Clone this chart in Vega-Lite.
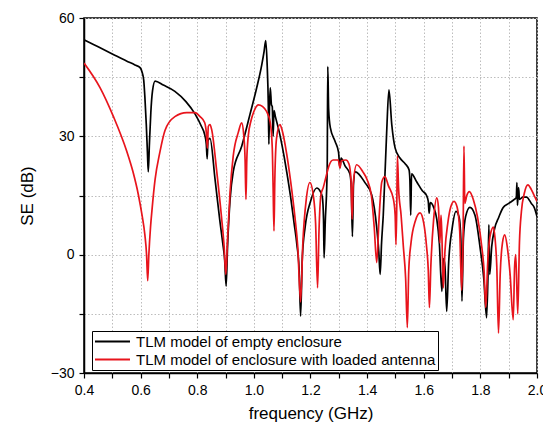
{
  "$schema": "https://vega.github.io/schema/vega-lite/v6.json",
  "autosize": {"type": "none"},
  "width": 453,
  "height": 355,
  "padding": {"left": 84, "top": 18, "right": 6, "bottom": 56},
  "background": "white",
  "config": {
    "font": "Liberation Sans",
    "view": {"stroke": "#000", "strokeWidth": 1.5},
    "axis": {
      "domainColor": "#000", "domainWidth": 1.5,
      "tickColor": "#000", "tickWidth": 1.2, "tickSize": 5,
      "labelFont": "Liberation Sans", "labelFontSize": 14, "labelColor": "#000", "labelPadding": 5,
      "titleFont": "Liberation Sans", "titleFontSize": 17, "titleFontWeight": "normal", "titleColor": "#000",
      "grid": true, "gridColor": "#bdbdbd", "gridDash": [1.5, 2], "gridWidth": 1
    }
  },
  "data": {"values": [
    {"f":0.40,"se":54.5,"s":"A"},{"f":0.45,"se":52.7,"s":"A"},{"f":0.50,"se":50.9,"s":"A"},{"f":0.55,"se":49.1,"s":"A"},{"f":0.58,"se":48.1,"s":"A"},{"f":0.598,"se":47.4,"s":"A"},{"f":0.605,"se":46.3,"s":"A"},{"f":0.611,"se":44.2,"s":"A"},{"f":0.615,"se":40,"s":"A"},{"f":0.62,"se":33,"s":"A"},{"f":0.624,"se":26,"s":"A"},{"f":0.627,"se":21,"s":"A"},{"f":0.631,"se":28,"s":"A"},{"f":0.636,"se":36,"s":"A"},{"f":0.642,"se":41.5,"s":"A"},{"f":0.651,"se":44,"s":"A"},{"f":0.68,"se":43,"s":"A"},{"f":0.721,"se":41.4,"s":"A"},{"f":0.76,"se":38.8,"s":"A"},{"f":0.792,"se":35.7,"s":"A"},{"f":0.815,"se":32.5,"s":"A"},{"f":0.826,"se":30.5,"s":"A"},{"f":0.832,"se":28,"s":"A"},{"f":0.835,"se":24.3,"s":"A"},{"f":0.838,"se":29,"s":"A"},{"f":0.845,"se":29.5,"s":"A"},{"f":0.863,"se":19,"s":"A"},{"f":0.88,"se":8.5,"s":"A"},{"f":0.89,"se":3,"s":"A"},{"f":0.897,"se":-1.5,"s":"A"},{"f":0.902,"se":-8,"s":"A"},{"f":0.907,"se":2,"s":"A"},{"f":0.916,"se":14,"s":"A"},{"f":0.927,"se":21,"s":"A"},{"f":0.957,"se":27.5,"s":"A"},{"f":0.986,"se":35.5,"s":"A"},{"f":1.01,"se":42.3,"s":"A"},{"f":1.028,"se":48.2,"s":"A"},{"f":1.036,"se":51.5,"s":"A"},{"f":1.042,"se":54.3,"s":"A"},{"f":1.047,"se":48,"s":"A"},{"f":1.051,"se":38,"s":"A"},{"f":1.053,"se":28,"s":"A"},{"f":1.055,"se":37,"s":"A"},{"f":1.058,"se":42.3,"s":"A"},{"f":1.062,"se":38,"s":"A"},{"f":1.065,"se":37.5,"s":"A"},{"f":1.068,"se":30,"s":"A"},{"f":1.071,"se":36.5,"s":"A"},{"f":1.076,"se":35,"s":"A"},{"f":1.09,"se":31,"s":"A"},{"f":1.10,"se":27.5,"s":"A"},{"f":1.116,"se":21,"s":"A"},{"f":1.13,"se":14.5,"s":"A"},{"f":1.142,"se":8,"s":"A"},{"f":1.152,"se":2.5,"s":"A"},{"f":1.16,"se":-4,"s":"A"},{"f":1.165,"se":-15.6,"s":"A"},{"f":1.171,"se":-1,"s":"A"},{"f":1.181,"se":7,"s":"A"},{"f":1.20,"se":13.5,"s":"A"},{"f":1.222,"se":16.9,"s":"A"},{"f":1.235,"se":16,"s":"A"},{"f":1.242,"se":14.5,"s":"A"},{"f":1.246,"se":9,"s":"A"},{"f":1.248,"se":-0.8,"s":"A"},{"f":1.252,"se":8,"s":"A"},{"f":1.259,"se":22,"s":"A"},{"f":1.261,"se":47.7,"s":"A"},{"f":1.264,"se":37,"s":"A"},{"f":1.27,"se":32.2,"s":"A"},{"f":1.287,"se":28.7,"s":"A"},{"f":1.299,"se":26,"s":"A"},{"f":1.304,"se":22,"s":"A"},{"f":1.308,"se":24.5,"s":"A"},{"f":1.322,"se":22.5,"s":"A"},{"f":1.339,"se":20.5,"s":"A"},{"f":1.344,"se":17,"s":"A"},{"f":1.348,"se":4.6,"s":"A"},{"f":1.352,"se":18,"s":"A"},{"f":1.358,"se":21,"s":"A"},{"f":1.393,"se":18.2,"s":"A"},{"f":1.416,"se":15.2,"s":"A"},{"f":1.434,"se":6.8,"s":"A"},{"f":1.441,"se":1,"s":"A"},{"f":1.446,"se":-5,"s":"A"},{"f":1.451,"se":3,"s":"A"},{"f":1.457,"se":10,"s":"A"},{"f":1.469,"se":31,"s":"A"},{"f":1.477,"se":41.8,"s":"A"},{"f":1.487,"se":33,"s":"A"},{"f":1.499,"se":27,"s":"A"},{"f":1.516,"se":24.5,"s":"A"},{"f":1.535,"se":23,"s":"A"},{"f":1.548,"se":21.5,"s":"A"},{"f":1.551,"se":19,"s":"A"},{"f":1.554,"se":10,"s":"A"},{"f":1.557,"se":20.5,"s":"A"},{"f":1.575,"se":18.5,"s":"A"},{"f":1.595,"se":16.2,"s":"A"},{"f":1.61,"se":15,"s":"A"},{"f":1.616,"se":13.5,"s":"A"},{"f":1.619,"se":10.5,"s":"A"},{"f":1.623,"se":13.2,"s":"A"},{"f":1.635,"se":12,"s":"A"},{"f":1.646,"se":9,"s":"A"},{"f":1.655,"se":3,"s":"A"},{"f":1.664,"se":-9.3,"s":"A"},{"f":1.67,"se":-1,"s":"A"},{"f":1.675,"se":-3,"s":"A"},{"f":1.681,"se":-14.4,"s":"A"},{"f":1.688,"se":-2,"s":"A"},{"f":1.70,"se":6.5,"s":"A"},{"f":1.714,"se":11,"s":"A"},{"f":1.725,"se":9.5,"s":"A"},{"f":1.731,"se":4,"s":"A"},{"f":1.735,"se":-11.8,"s":"A"},{"f":1.74,"se":4,"s":"A"},{"f":1.748,"se":9.7,"s":"A"},{"f":1.763,"se":12,"s":"A"},{"f":1.781,"se":10,"s":"A"},{"f":1.799,"se":1.8,"s":"A"},{"f":1.812,"se":-6,"s":"A"},{"f":1.822,"se":-16,"s":"A"},{"f":1.827,"se":-5,"s":"A"},{"f":1.83,"se":7.6,"s":"A"},{"f":1.833,"se":-5,"s":"A"},{"f":1.84,"se":2,"s":"A"},{"f":1.85,"se":6.5,"s":"A"},{"f":1.865,"se":9.5,"s":"A"},{"f":1.88,"se":11.9,"s":"A"},{"f":1.90,"se":13,"s":"A"},{"f":1.92,"se":14,"s":"A"},{"f":1.927,"se":14.5,"s":"A"},{"f":1.929,"se":18.3,"s":"A"},{"f":1.931,"se":12.5,"s":"A"},{"f":1.935,"se":17,"s":"A"},{"f":1.938,"se":14,"s":"A"},{"f":1.95,"se":14.6,"s":"A"},{"f":1.963,"se":14.6,"s":"A"},{"f":1.98,"se":13,"s":"A"},{"f":1.99,"se":12,"s":"A"},{"f":2.00,"se":9.7,"s":"A"},

    {"f":0.40,"se":48.6,"s":"B"},{"f":0.457,"se":42.3,"s":"B"},{"f":0.504,"se":35,"s":"B"},{"f":0.551,"se":26.2,"s":"B"},{"f":0.573,"se":21,"s":"B"},{"f":0.592,"se":15.2,"s":"B"},{"f":0.605,"se":10,"s":"B"},{"f":0.615,"se":5,"s":"B"},{"f":0.621,"se":0,"s":"B"},{"f":0.625,"se":-6.6,"s":"B"},{"f":0.629,"se":0,"s":"B"},{"f":0.635,"se":7,"s":"B"},{"f":0.641,"se":12,"s":"B"},{"f":0.651,"se":19,"s":"B"},{"f":0.668,"se":26,"s":"B"},{"f":0.686,"se":31.5,"s":"B"},{"f":0.721,"se":35,"s":"B"},{"f":0.763,"se":36,"s":"B"},{"f":0.792,"se":36,"s":"B"},{"f":0.81,"se":35,"s":"B"},{"f":0.826,"se":33.5,"s":"B"},{"f":0.832,"se":31,"s":"B"},{"f":0.836,"se":27,"s":"B"},{"f":0.839,"se":32.5,"s":"B"},{"f":0.845,"se":33,"s":"B"},{"f":0.851,"se":31.7,"s":"B"},{"f":0.869,"se":21,"s":"B"},{"f":0.886,"se":9.3,"s":"B"},{"f":0.895,"se":2,"s":"B"},{"f":0.901,"se":-5,"s":"B"},{"f":0.907,"se":4,"s":"B"},{"f":0.916,"se":16,"s":"B"},{"f":0.927,"se":25,"s":"B"},{"f":0.945,"se":31,"s":"B"},{"f":0.957,"se":33.4,"s":"B"},{"f":0.964,"se":30.5,"s":"B"},{"f":0.969,"se":24,"s":"B"},{"f":0.972,"se":14,"s":"B"},{"f":0.975,"se":24,"s":"B"},{"f":0.98,"se":30,"s":"B"},{"f":0.99,"se":34,"s":"B"},{"f":1.00,"se":36.3,"s":"B"},{"f":1.016,"se":38,"s":"B"},{"f":1.03,"se":37.6,"s":"B"},{"f":1.045,"se":36.3,"s":"B"},{"f":1.058,"se":33.5,"s":"B"},{"f":1.065,"se":27,"s":"B"},{"f":1.068,"se":17,"s":"B"},{"f":1.071,"se":6,"s":"B"},{"f":1.074,"se":19,"s":"B"},{"f":1.08,"se":29.5,"s":"B"},{"f":1.092,"se":33,"s":"B"},{"f":1.10,"se":31.5,"s":"B"},{"f":1.116,"se":25.5,"s":"B"},{"f":1.13,"se":18.5,"s":"B"},{"f":1.145,"se":9.5,"s":"B"},{"f":1.155,"se":2,"s":"B"},{"f":1.165,"se":-12,"s":"B"},{"f":1.173,"se":3,"s":"B"},{"f":1.185,"se":14,"s":"B"},{"f":1.198,"se":18.3,"s":"B"},{"f":1.21,"se":15,"s":"B"},{"f":1.218,"se":8,"s":"B"},{"f":1.225,"se":-8.4,"s":"B"},{"f":1.23,"se":6,"s":"B"},{"f":1.237,"se":15.2,"s":"B"},{"f":1.245,"se":17,"s":"B"},{"f":1.254,"se":19.5,"s":"B"},{"f":1.265,"se":22.5,"s":"B"},{"f":1.28,"se":24,"s":"B"},{"f":1.298,"se":24,"s":"B"},{"f":1.304,"se":22,"s":"B"},{"f":1.309,"se":23.8,"s":"B"},{"f":1.325,"se":24,"s":"B"},{"f":1.336,"se":23,"s":"B"},{"f":1.343,"se":19,"s":"B"},{"f":1.347,"se":9,"s":"B"},{"f":1.351,"se":18,"s":"B"},{"f":1.363,"se":22.8,"s":"B"},{"f":1.385,"se":21,"s":"B"},{"f":1.40,"se":19,"s":"B"},{"f":1.415,"se":15,"s":"B"},{"f":1.425,"se":7,"s":"B"},{"f":1.434,"se":-2,"s":"B"},{"f":1.442,"se":9,"s":"B"},{"f":1.452,"se":18.5,"s":"B"},{"f":1.463,"se":19.8,"s":"B"},{"f":1.475,"se":17.5,"s":"B"},{"f":1.493,"se":14,"s":"B"},{"f":1.499,"se":10,"s":"B"},{"f":1.502,"se":2.5,"s":"B"},{"f":1.505,"se":14,"s":"B"},{"f":1.507,"se":25,"s":"B"},{"f":1.511,"se":17,"s":"B"},{"f":1.52,"se":10,"s":"B"},{"f":1.528,"se":2,"s":"B"},{"f":1.536,"se":-6,"s":"B"},{"f":1.542,"se":-18.5,"s":"B"},{"f":1.547,"se":-4,"s":"B"},{"f":1.555,"se":3,"s":"B"},{"f":1.57,"se":8.5,"s":"B"},{"f":1.587,"se":10.6,"s":"B"},{"f":1.60,"se":8,"s":"B"},{"f":1.61,"se":2,"s":"B"},{"f":1.616,"se":-4,"s":"B"},{"f":1.62,"se":-13.4,"s":"B"},{"f":1.625,"se":-3,"s":"B"},{"f":1.635,"se":9,"s":"B"},{"f":1.646,"se":14.4,"s":"B"},{"f":1.652,"se":12,"s":"B"},{"f":1.657,"se":3,"s":"B"},{"f":1.661,"se":10,"s":"B"},{"f":1.664,"se":5,"s":"B"},{"f":1.669,"se":-8.4,"s":"B"},{"f":1.675,"se":1,"s":"B"},{"f":1.685,"se":8,"s":"B"},{"f":1.695,"se":12,"s":"B"},{"f":1.707,"se":13.5,"s":"B"},{"f":1.718,"se":12,"s":"B"},{"f":1.727,"se":6,"s":"B"},{"f":1.734,"se":-9,"s":"B"},{"f":1.739,"se":5,"s":"B"},{"f":1.742,"se":27.5,"s":"B"},{"f":1.745,"se":13,"s":"B"},{"f":1.752,"se":15,"s":"B"},{"f":1.761,"se":16,"s":"B"},{"f":1.775,"se":14,"s":"B"},{"f":1.79,"se":9.5,"s":"B"},{"f":1.805,"se":2,"s":"B"},{"f":1.813,"se":-4,"s":"B"},{"f":1.819,"se":-13.4,"s":"B"},{"f":1.826,"se":-2,"s":"B"},{"f":1.835,"se":5,"s":"B"},{"f":1.846,"se":7,"s":"B"},{"f":1.852,"se":4,"s":"B"},{"f":1.858,"se":-3,"s":"B"},{"f":1.864,"se":-19.9,"s":"B"},{"f":1.87,"se":-5,"s":"B"},{"f":1.878,"se":3,"s":"B"},{"f":1.886,"se":5,"s":"B"},{"f":1.895,"se":2,"s":"B"},{"f":1.905,"se":-5,"s":"B"},{"f":1.916,"se":-16.5,"s":"B"},{"f":1.921,"se":-3,"s":"B"},{"f":1.925,"se":0,"s":"B"},{"f":1.932,"se":-15,"s":"B"},{"f":1.938,"se":3,"s":"B"},{"f":1.945,"se":11,"s":"B"},{"f":1.955,"se":15.5,"s":"B"},{"f":1.968,"se":17.7,"s":"B"},{"f":1.98,"se":16.5,"s":"B"},{"f":1.99,"se":15,"s":"B"},{"f":2.00,"se":13.5,"s":"B"}
  ]},
  "mark": {"type": "line", "strokeWidth": 1.7, "interpolate": "monotone", "clip": true},
  "encoding": {
    "x": {"field": "f", "type": "quantitative", "title": "frequency (GHz)",
      "scale": {"domain": [0.4, 2.0], "nice": false, "zero": false},
      "axis": {"values": [0.4,0.5,0.6,0.7,0.8,0.9,1.0,1.1,1.2,1.3,1.4,1.5,1.6,1.7,1.8,1.9,2.0],
        "labelExpr": "round(datum.value*10) % 2 == 0 ? format(datum.value, '.1f') : ''",
        "titlePadding": 8, "labelFlush": false, "labelOverlap": false}},
    "y": {"field": "se", "type": "quantitative", "title": "SE (dB)",
      "scale": {"domain": [-30, 60], "nice": false, "zero": false},
      "axis": {"values": [-30,-15,0,15,30,45,60],
        "labelExpr": "datum.value % 30 == 0 ? datum.label : ''",
        "titlePadding": 14, "labelFlush": false, "labelOverlap": false}},
    "color": {"field": "s", "type": "nominal",
      "scale": {"domain": ["A", "B"], "range": ["#000000", "#e8141c"]},
      "legend": {"orient": "none", "legendX": 8, "legendY": 313, "title": null,
        "labelExpr": "datum.value == 'A' ? 'TLM model of empty enclosure' : 'TLM model of enclosure with loaded antenna'",
        "symbolType": "stroke", "symbolSize": 1225, "symbolStrokeWidth": 2, "clipHeight": 17,
        "labelFont": "Liberation Sans", "labelFontSize": 15, "labelColor": "#000", "labelOffset": 5,
        "strokeColor": "#000", "fillColor": "white", "padding": 2, "rowPadding": 1, "labelLimit": 400}}
  }
}
